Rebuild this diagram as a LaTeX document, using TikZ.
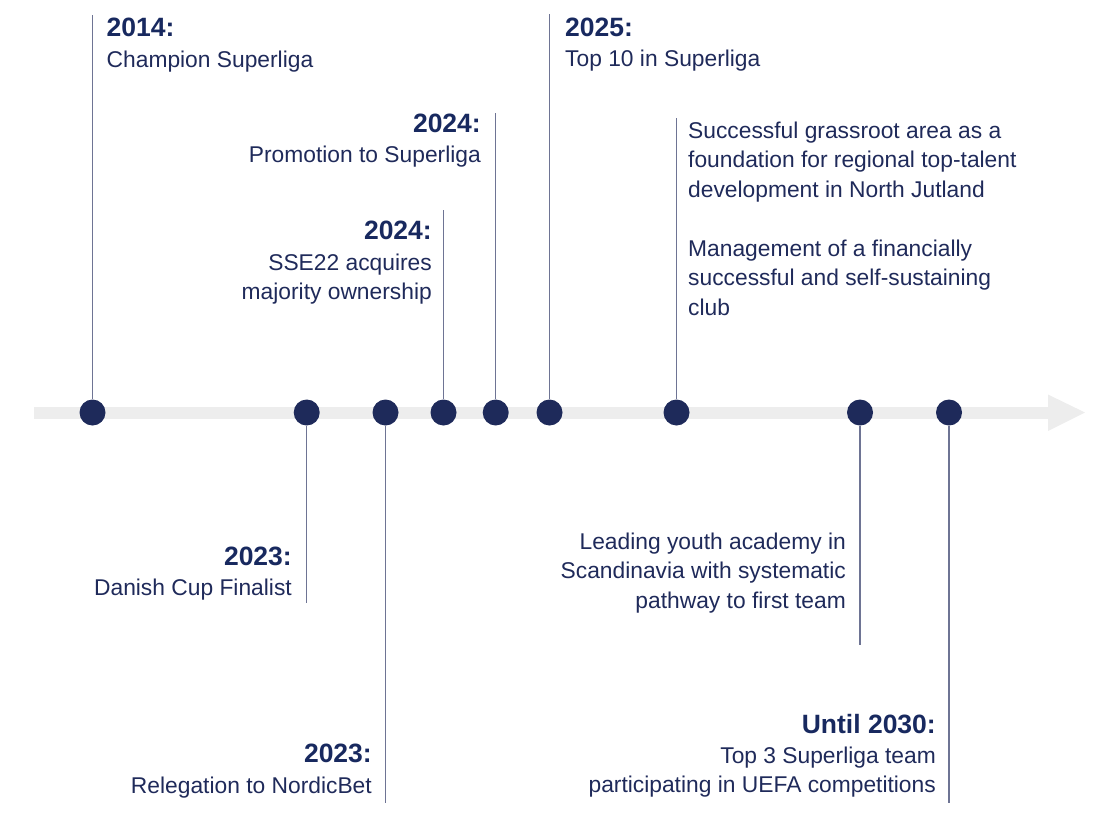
\documentclass[tikz,border=0pt]{standalone}
\usepackage{fontspec}
\setmainfont{Liberation Sans}
\definecolor{ink}{HTML}{1F2A5A}
\definecolor{inkbold}{HTML}{18295F}
\definecolor{dotc}{HTML}{1E2A5A}
\definecolor{stemc}{HTML}{6E7494}
\definecolor{barc}{HTML}{EDEDED}
\begin{document}
\begin{tikzpicture}[x=1pt,y=-1pt,
  reg/.style={inner sep=0, text=ink, font=\fontsize{22.8}{29.5}\selectfont},
  yr/.style={inner sep=0, text=inkbold, font=\fontsize{26.5}{30}\selectfont\bfseries},
  stem/.style={draw=stemc, line width=1.2pt},
  dot/.style={circle, fill=dotc, minimum size=26pt, inner sep=0}]
\useasboundingbox (0,0) rectangle (1116,817);
% timeline bar
\fill[barc] (34,406.5) rectangle (1049,419);
\fill[barc] (1048,394.5) -- (1085,412.5) -- (1048,431) -- cycle;
% dots
\node[dot] (d1) at (92.5,412.5) {};
\node[dot] (d2) at (306.7,412.5) {};
\node[dot] (d3) at (385.5,412.5) {};
\node[dot] (d4) at (443.5,412.5) {};
\node[dot] (d5) at (495.7,412.5) {};
\node[dot] (d6) at (549.5,412.5) {};
\node[dot] (d7) at (676.5,412.5) {};
\node[dot] (d8) at (860,412.5) {};
\node[dot] (d9) at (949,412.5) {};
% stem ends
\coordinate (c1) at (92.5,15);
\coordinate (c2) at (306.7,603);
\coordinate (c3) at (385.5,803);
\coordinate (c4) at (443.5,210);
\coordinate (c5) at (495.7,113);
\coordinate (c6) at (549.5,14);
\coordinate (c7) at (676.5,118);
\coordinate (c8) at (860,645);
\coordinate (c9) at (949,803);
\foreach \i in {1,...,9} {\draw[stem] (d\i) -- (c\i);}
% texts
\node[yr, anchor=base west] (y1) at (106.5,36) {2014:};
\node[reg, anchor=base west] (t1) at (106.5,67) {Champion Superliga};
\node[yr, anchor=base east] (y5) at (481,132) {2024:};
\node[reg, anchor=base east] (t5) at (481,162) {Promotion to Superliga};
\node[yr, anchor=base east] (y4) at (432,239.5) {2024:};
\node[reg, anchor=base east] (t4a) at (432,270) {SSE22 acquires};
\node[reg, anchor=base east] (t4b) at (432,299.5) {majority ownership};
\node[yr, anchor=base west] (y6) at (565,36) {2025:};
\node[reg, anchor=base west] (t6) at (565,66) {Top 10 in Superliga};
\node[reg, anchor=base west] (t7a) at (688,138) {Successful grassroot area as a};
\node[reg, anchor=base west] (t7b) at (688,167.5) {foundation for regional top-talent};
\node[reg, anchor=base west] (t7c) at (688,197) {development in North Jutland};
\node[reg, anchor=base west] (t7d) at (688,256) {Management of a financially};
\node[reg, anchor=base west] (t7e) at (688,285.5) {successful and self-sustaining};
\node[reg, anchor=base west] (t7f) at (688,315) {club};
\node[yr, anchor=base east] (y2) at (292,565) {2023:};
\node[reg, anchor=base east] (t2) at (292,595) {Danish Cup Finalist};
\node[reg, anchor=base east] (t8a) at (846,549) {Leading youth academy in};
\node[reg, anchor=base east] (t8b) at (846,578.5) {Scandinavia with systematic};
\node[reg, anchor=base east] (t8c) at (846,608) {pathway to first team};
\node[yr, anchor=base east] (y3) at (372,762) {2023:};
\node[reg, anchor=base east] (t3) at (372,793) {Relegation to NordicBet};
\node[yr, anchor=base east] (y9) at (936,733) {Until 2030:};
\node[reg, anchor=base east] (t9a) at (936,763) {Top 3 Superliga team};
\node[reg, anchor=base east] (t9b) at (936,792) {participating in UEFA competitions};
\end{tikzpicture}
\end{document}
